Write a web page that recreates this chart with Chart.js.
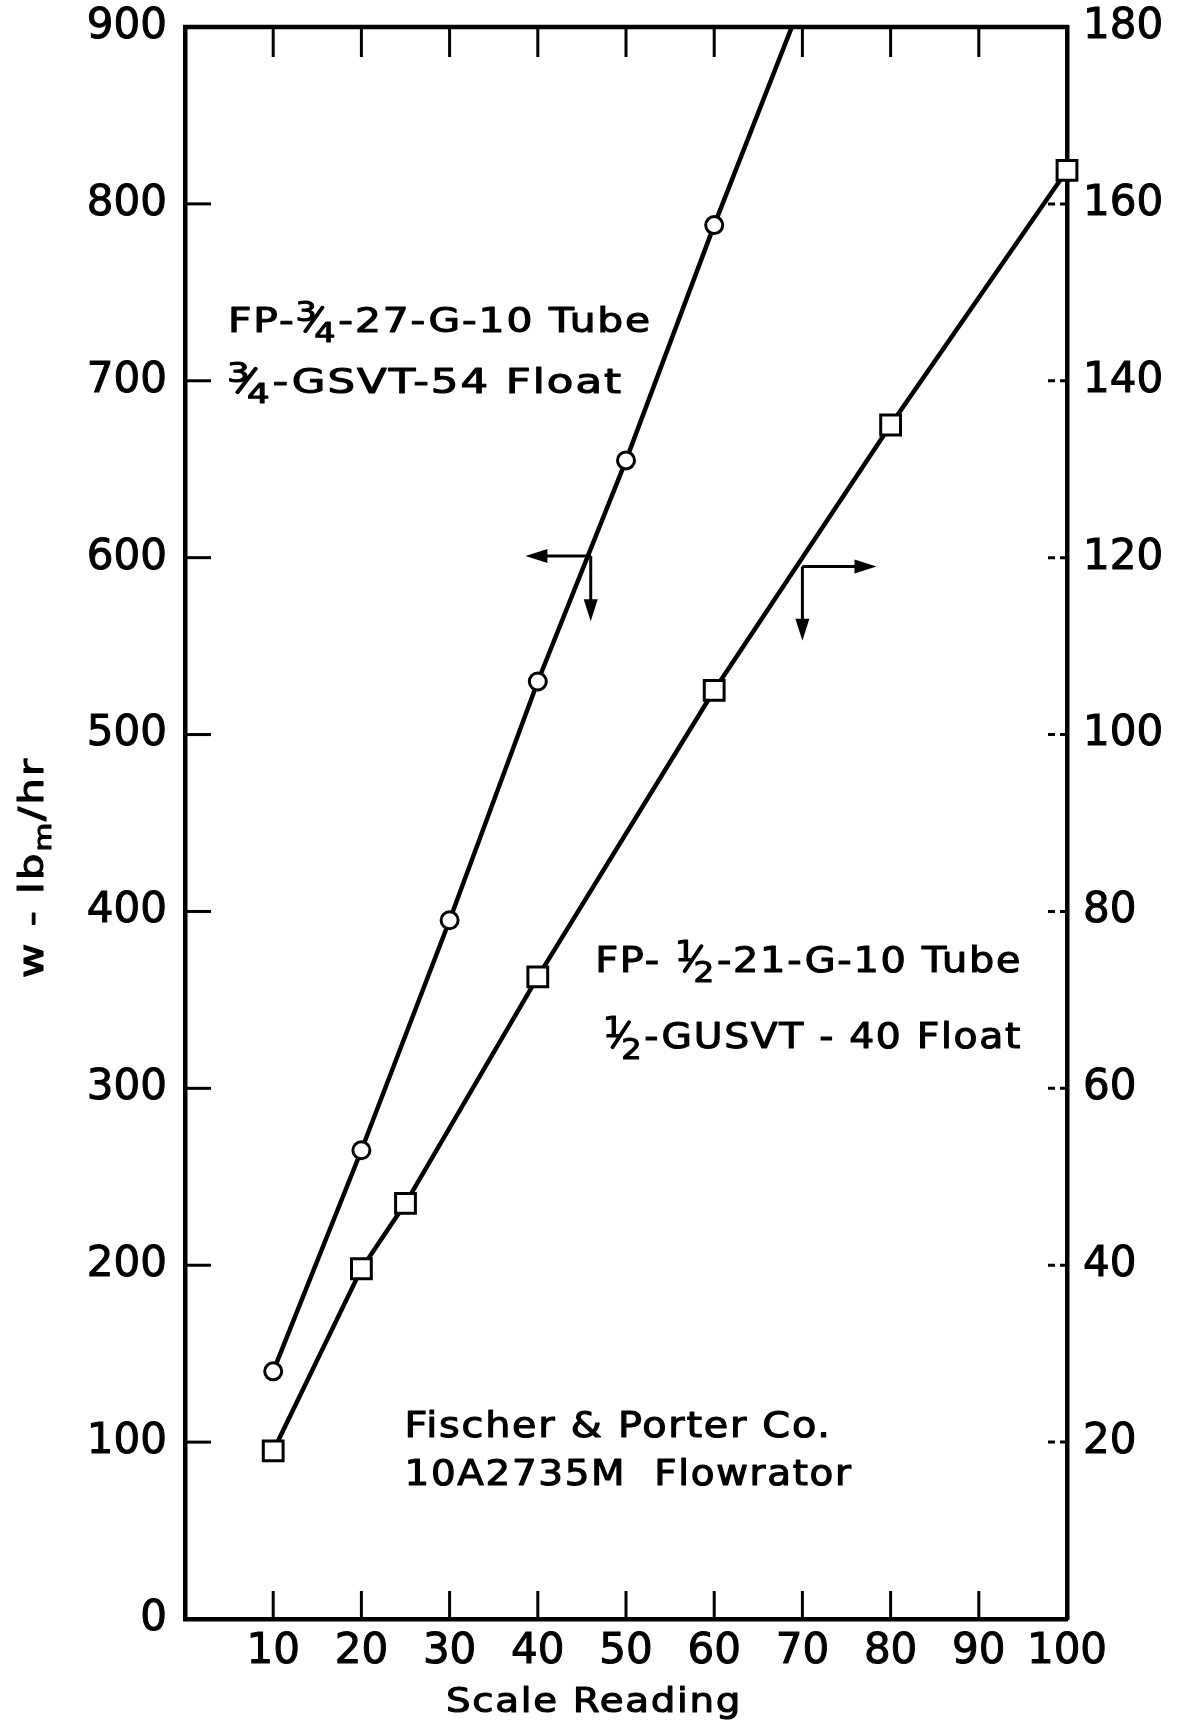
<!DOCTYPE html>
<html><head><meta charset="utf-8">
<script src="https://cdn.jsdelivr.net/npm/chart.js@4/dist/chart.umd.min.js"></script>
<style>html,body{margin:0;padding:0;background:#fff}#wrap{width:1186px;height:1725px;position:relative}</style>
</head><body><div id="wrap"><canvas id="c" width="1186" height="1725"></canvas></div>
<script>
// ---- data ----
const scaleReadings34 = [10, 20, 30, 40, 50, 60, 68.8];
const flow34 = [140, 265, 395, 530, 655, 788, 900];
const markerShown34 = [true, true, true, true, true, true, false];
const scaleReadings12 = [10, 20, 25, 40, 60, 80, 100];
const flow12 = [19, 39.6, 47, 72.6, 105, 135, 163.8];
const xTickValues = [10, 20, 30, 40, 50, 60, 70, 80, 90, 100];
const leftTickValues = [0, 100, 200, 300, 400, 500, 600, 700, 800, 900];
const rightTickValues = [20, 40, 60, 80, 100, 120, 140, 160, 180];
// arrows: junction (x, y), horizontal end x, vertical end y, axis
const arrowLeft = { x: 46, y: 601, hx: 38.6, vy: 564, axis: 'y' };
const arrowRight = { x: 70, y: 119, hx: 78.4, vy: 110.6, axis: 'y1' };

const FONT = '"DejaVu Sans", sans-serif';
// annotation text: left x (data), baseline y (left-axis data), font size, target width
const labels = [
  { segs: [{ t: 'FP-' }, { frac: ['3', '4'] }, { t: '-27-G-10 Tube' }], x: 4.88, y: 727.6, size: 33, w: 424 },
  { segs: [{ frac: ['3', '4'] }, { t: '-GSVT-54 Float' }], x: 4.76, y: 693.1, size: 33, w: 396 },
  { segs: [{ t: 'FP- ' }, { frac: ['1', '2'] }, { t: '-21-G-10 Tube' }], x: 46.5, y: 365.8, size: 35, w: 427 },
  { segs: [{ frac: ['1', '2'] }, { t: '-GUSVT - 40 Float' }], x: 47.4, y: 322.8, size: 35, w: 419 },
  { segs: [{ t: 'Fischer & Porter Co.' }], x: 24.9, y: 102.9, size: 35, w: 427 },
  { segs: [{ t: '10A2735M  Flowrator' }], x: 24.9, y: 75.8, size: 35, w: 448 }
];
const SP = 1.5;

function setFont(ctx, size) { ctx.font = size + 'px ' + FONT; ctx.letterSpacing = SP + 'px'; }
function segWidth(ctx, s, size) {
  if (s.t !== undefined) { setFont(ctx, size); return ctx.measureText(s.t).width; }
  if (s.frac) return size * 1.05;
  if (s.sub) { setFont(ctx, size * 0.7); return ctx.measureText(s.sub).width; }
  return 0;
}
function richWidth(ctx, segs, size) { return segs.reduce((a, s) => a + segWidth(ctx, s, size), 0); }
function drawRich(ctx, segs, x, base, size, target) {
  const nat = richWidth(ctx, segs, size);
  const k = target ? target / nat : 1;
  ctx.save();
  ctx.translate(x, base); ctx.scale(k, 1);
  let cx = 0;
  ctx.textAlign = 'left'; ctx.textBaseline = 'alphabetic';
  ctx.fillStyle = '#000'; ctx.strokeStyle = '#000'; ctx.lineWidth = 1.1; ctx.lineJoin = 'round';
  const put = (t, px, py) => { ctx.fillText(t, px, py); ctx.strokeText(t, px, py); };
  for (const s of segs) {
    const w = segWidth(ctx, s, size);
    if (s.t !== undefined) {
      setFont(ctx, size); put(s.t, cx, 0);
    } else if (s.frac) {
      setFont(ctx, size * 0.82); ctx.letterSpacing = '0px';
      put(s.frac[0], cx, -size * 0.32);
      put(s.frac[1], cx + size * 0.46, size * 0.3);
      ctx.save(); ctx.lineWidth = size * 0.1; ctx.lineCap = 'round';
      ctx.beginPath(); ctx.moveTo(cx + size * 0.24, -size * 0.02); ctx.lineTo(cx + size * 0.66, -size * 0.74); ctx.stroke();
      ctx.restore();
    } else if (s.sub) {
      setFont(ctx, size * 0.7); put(s.sub, cx, size * 0.25);
    }
    cx += w;
  }
  ctx.restore();
  ctx.letterSpacing = '0px';
}
function arrowHead(ctx, x, y, dx, dy) {
  const L = 22, W = 7;
  ctx.beginPath();
  ctx.moveTo(x, y);
  ctx.lineTo(x - dx * L - dy * W, y - dy * L + dx * W);
  ctx.lineTo(x - dx * L + dy * W, y - dy * L - dx * W);
  ctx.closePath(); ctx.fill();
}

const decor = {
  id: 'decor',
  beforeDatasetsDraw(chart) {
    const { ctx, chartArea: a, scales } = chart;
    ctx.save();
    ctx.strokeStyle = '#000'; ctx.lineWidth = 4.5; ctx.lineCap = 'butt';
    ctx.beginPath(); ctx.moveTo(a.left - 2, a.top); ctx.lineTo(a.right + 2, a.top); ctx.stroke();
    ctx.lineWidth = 3;
    xTickValues.forEach(v => {
      if (v >= 100) return;
      const px = scales.x.getPixelForValue(v);
      ctx.beginPath(); ctx.moveTo(px, a.bottom); ctx.lineTo(px, a.bottom - 28); ctx.stroke();
      ctx.beginPath(); ctx.moveTo(px, a.top); ctx.lineTo(px, a.top + 30); ctx.stroke();
    });
    leftTickValues.forEach(v => {
      if (v === 0 || v === 900) return;
      const py = scales.y.getPixelForValue(v);
      ctx.beginPath(); ctx.moveTo(a.left, py); ctx.lineTo(a.left + 26, py); ctx.stroke();
    });
    ctx.setLineDash([7, 5]);
    rightTickValues.forEach(v => {
      if (v === 180) return;
      const py = scales.y1.getPixelForValue(v);
      ctx.beginPath(); ctx.moveTo(a.right, py); ctx.lineTo(a.right - 22, py); ctx.stroke();
    });
    ctx.setLineDash([]);
    ctx.restore();
  },
  afterDraw(chart) {
    const { ctx, chartArea: a, scales } = chart;
    ctx.save();
    ctx.strokeStyle = '#000'; ctx.fillStyle = '#000'; ctx.lineWidth = 3;
    [[arrowLeft, -1], [arrowRight, 1]].forEach(([ar, dir]) => {
      const ys = scales[ar.axis];
      const jx = scales.x.getPixelForValue(ar.x), jy = ys.getPixelForValue(ar.y);
      const hx = scales.x.getPixelForValue(ar.hx), vy = ys.getPixelForValue(ar.vy);
      ctx.beginPath(); ctx.moveTo(jx, jy); ctx.lineTo(hx - dir * 10, jy); ctx.stroke();
      arrowHead(ctx, hx, jy, dir, 0);
      ctx.beginPath(); ctx.moveTo(jx, jy); ctx.lineTo(jx, vy - 10); ctx.stroke();
      arrowHead(ctx, jx, vy, 0, 1);
    });
    labels.forEach(l => {
      drawRich(ctx, l.segs, scales.x.getPixelForValue(l.x), scales.y.getPixelForValue(l.y), l.size, l.w);
    });
    // x axis title
    drawRich(ctx, [{ t: 'Scale Reading' }], 446, 1712, 34, 296);
    // y axis title
    const yt = [{ t: 'w - lb' }, { sub: 'm' }, { t: '/hr' }];
    ctx.translate(43, 868); ctx.rotate(-Math.PI / 2);
    drawRich(ctx, yt, -110, 0, 33, 221);
    ctx.restore();
  }
};

const tickFont = { family: FONT, size: 42 };
const noPad = s => { s.paddingTop = 0; s.paddingBottom = 0; s.paddingLeft = 0; s.paddingRight = 0; };
new Chart(document.getElementById('c'), {
  type: 'line',
  data: {
    datasets: [
      {
        label: 'FP-3/4-27-G-10 Tube',
        data: scaleReadings34.map((x, i) => ({ x, y: flow34[i] })),
        yAxisID: 'y',
        borderColor: '#000', borderWidth: 4.5, backgroundColor: '#fff',
        pointStyle: 'circle',
        pointRadius: markerShown34.map(m => m ? 8.5 : 0),
        pointBorderWidth: 3, pointBorderColor: '#000', pointBackgroundColor: '#fff',
        tension: 0, clip: 0
      },
      {
        label: 'FP-1/2-21-G-10 Tube',
        data: scaleReadings12.map((x, i) => ({ x, y: flow12[i] })),
        yAxisID: 'y1',
        borderColor: '#000', borderWidth: 4.5, backgroundColor: '#fff',
        pointStyle: 'rect', pointRadius: 14,
        pointBorderWidth: 3, pointBorderColor: '#000', pointBackgroundColor: '#fff',
        tension: 0, clip: false
      }
    ]
  },
  options: {
    responsive: false, animation: false, devicePixelRatio: 1,
    layout: { padding: { top: 27, left: 0, right: 0, bottom: 0 } },
    plugins: { legend: { display: false }, tooltip: { enabled: false } },
    scales: {
      x: {
        type: 'linear', min: 0, max: 100,
        afterBuildTicks: s => { s.ticks = xTickValues.map(v => ({ value: v })); },
        afterFit: s => { s.height = 106; noPad(s); },
        ticks: { font: tickFont, color: '#000', padding: 8, maxRotation: 0, autoSkip: false, textStrokeColor: '#000', textStrokeWidth: 1 },
        grid: { drawOnChartArea: false, drawTicks: false },
        border: { color: '#000', width: 4.5 }
      },
      y: {
        type: 'linear', position: 'left', min: 0, max: 900,
        afterBuildTicks: s => { s.ticks = leftTickValues.map(v => ({ value: v })); },
        afterFit: s => { s.width = 185; noPad(s); },
        ticks: { font: tickFont, color: '#000', padding: 18, textStrokeColor: '#000', textStrokeWidth: 1 },
        grid: { drawOnChartArea: false, drawTicks: false },
        border: { color: '#000', width: 4.5 }
      },
      y1: {
        type: 'linear', position: 'right', min: 0, max: 180,
        afterBuildTicks: s => { s.ticks = rightTickValues.map(v => ({ value: v })); },
        afterFit: s => { s.width = 119; noPad(s); },
        ticks: { font: tickFont, color: '#000', padding: 16, textStrokeColor: '#000', textStrokeWidth: 1 },
        grid: { drawOnChartArea: false, drawTicks: false },
        border: { color: '#000', width: 4.5 }
      }
    }
  },
  plugins: [decor]
});
</script></body></html>
